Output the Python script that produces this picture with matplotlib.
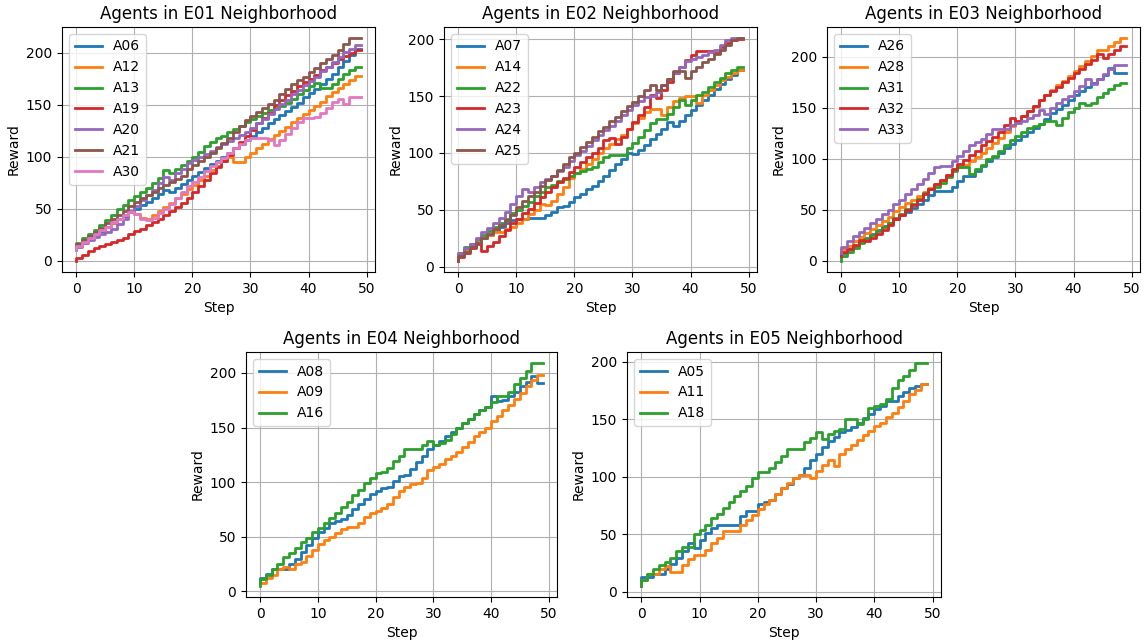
import matplotlib
matplotlib.use("Agg")
import matplotlib.pyplot as plt

# reward per step (steps 0..49)
steps = list(range(50))

e01_agents = ["A06", "A12", "A13", "A19", "A20", "A21", "A30"]
e01_rewards = [
  [10, 14, 18, 22, 26, 29, 33, 36, 40, 43, 47, 50, 54, 57, 60, 64, 68, 66, 70, 74, 78, 82, 85, 89, 93,
   96, 100, 104, 108, 112, 116, 120, 124, 128, 132, 136, 140, 144, 148, 152, 157, 161, 165, 170, 175, 180, 186, 192, 198, 204],
  [10, 14, 18, 22, 26, 30, 33, 36, 40, 44, 47, 45, 41, 40, 44, 48, 52, 56, 60, 64, 69, 73, 78, 82, 87,
   91, 96, 100, 95, 95, 100, 104, 108, 112, 117, 121, 125, 129, 133, 137, 141, 145, 149, 153, 158, 162, 166, 170, 174, 178],
  [12, 17, 22, 26, 30, 34, 39, 44, 50, 54, 58, 62, 66, 70, 75, 80, 87, 84, 88, 92, 96, 100, 105, 110, 114,
   118, 120, 124, 127, 130, 133, 136, 139, 142, 145, 147, 149, 152, 156, 160, 164, 168, 171, 166, 166, 170, 175, 180, 183, 186],
  [0, 3, 6, 9, 12, 14, 16, 18, 20, 22, 26, 29, 31, 34, 37, 40, 44, 48, 52, 56, 60, 66, 72, 78, 84,
   90, 96, 102, 108, 114, 120, 126, 132, 137, 142, 150, 155, 159, 163, 168, 172, 175, 179, 183, 186, 190, 194, 197, 200, 203],
  [10, 13, 17, 20, 23, 26, 28, 31, 35, 40, 48, 53, 58, 63, 68, 75, 81, 78, 84, 88, 94, 97, 100, 103, 106,
   109, 112, 115, 118, 121, 124, 128, 132, 136, 141, 146, 151, 155, 160, 164, 169, 173, 177, 182, 186, 191, 196, 201, 204, 207],
  [12, 16, 20, 24, 28, 32, 36, 40, 44, 48, 53, 57, 60, 63, 66, 70, 73, 76, 79, 82, 88, 92, 96, 100, 104,
   108, 113, 118, 124, 130, 135, 139, 143, 147, 151, 155, 160, 165, 170, 174, 177, 181, 185, 190, 194, 198, 203, 208, 214, 214],
  [10, 14, 18, 22, 26, 30, 33, 37, 40, 44, 47, 45, 40, 39, 41, 46, 50, 55, 60, 66, 72, 76, 81, 86, 91,
   95, 99, 104, 108, 112, 116, 118, 118, 118, 116, 111, 116, 122, 128, 133, 137, 137, 138, 142, 147, 153, 156, 151, 157, 157],
]

e02_agents = ["A07", "A14", "A22", "A23", "A24", "A25"]
e02_rewards = [
  [5, 10, 15, 18, 22, 25, 28, 31, 35, 38, 41, 42, 42, 43, 43, 43, 45, 48, 52, 53, 57, 61, 64, 68, 71,
   75, 80, 85, 90, 95, 100, 99, 103, 107, 112, 117, 121, 127, 124, 128, 133, 138, 142, 147, 151, 156, 161, 165, 169, 173],
  [5, 10, 14, 18, 22, 25, 28, 30, 30, 33, 35, 38, 42, 46, 50, 55, 54, 58, 64, 70, 78, 82, 86, 90, 95,
   100, 104, 108, 112, 116, 121, 126, 131, 136, 139, 139, 133, 140, 146, 148, 150, 150, 144, 151, 155, 160, 164, 167, 170, 173],
  [8, 12, 17, 20, 24, 28, 31, 35, 38, 42, 47, 50, 53, 57, 62, 66, 70, 72, 75, 77, 80, 82, 84, 86, 88,
   92, 96, 98, 98, 98, 104, 109, 114, 120, 126, 130, 130, 134, 140, 147, 142, 147, 151, 154, 158, 162, 166, 170, 173, 176],
  [5, 8, 12, 16, 20, 14, 18, 22, 27, 32, 38, 42, 47, 51, 56, 61, 66, 70, 74, 78, 83, 88, 92, 96, 100,
   104, 111, 113, 108, 114, 121, 127, 133, 140, 151, 148, 155, 162, 170, 176, 182, 186, 190, 190, 190, 188, 193, 197, 199, 200],
  [8, 12, 16, 20, 25, 30, 34, 38, 43, 48, 55, 62, 68, 66, 70, 74, 77, 80, 84, 88, 93, 98, 102, 106, 111,
   116, 120, 124, 128, 133, 138, 142, 146, 149, 150, 154, 160, 165, 170, 176, 181, 183, 184, 186, 189, 191, 195, 199, 201, 201],
  [5, 9, 13, 17, 21, 25, 29, 33, 37, 41, 45, 52, 58, 62, 66, 71, 76, 80, 85, 90, 96, 100, 105, 110, 114,
   119, 123, 128, 132, 137, 141, 145, 150, 155, 160, 155, 160, 165, 172, 172, 166, 172, 176, 180, 183, 187, 191, 195, 199, 201],
]

e03_agents = ["A26", "A28", "A31", "A32", "A33"]
e03_rewards = [
  [5, 8, 12, 15, 18, 22, 26, 30, 34, 37, 41, 45, 48, 52, 56, 60, 64, 68, 68, 68, 72, 78, 83, 83, 88,
   93, 98, 102, 106, 110, 114, 118, 122, 126, 130, 134, 139, 145, 149, 153, 157, 162, 166, 170, 174, 178, 182, 189, 184, 184],
  [8, 12, 15, 19, 23, 27, 31, 35, 39, 43, 49, 53, 57, 60, 63, 67, 71, 75, 79, 84, 90, 92, 94, 98, 102,
   106, 110, 115, 120, 126, 132, 137, 142, 147, 152, 157, 162, 167, 172, 176, 181, 186, 191, 196, 201, 206, 206, 210, 214, 218],
  [0, 5, 9, 13, 17, 21, 25, 29, 33, 37, 42, 46, 51, 56, 61, 66, 70, 72, 76, 82, 88, 92, 92, 85, 90,
   94, 100, 103, 108, 113, 118, 122, 126, 130, 132, 134, 137, 137, 133, 140, 146, 150, 155, 153, 155, 160, 164, 168, 172, 174],
  [5, 9, 12, 16, 20, 19, 22, 26, 30, 35, 41, 45, 50, 55, 60, 65, 70, 75, 79, 84, 90, 95, 99, 104, 108,
   113, 117, 121, 126, 133, 140, 137, 142, 147, 152, 157, 162, 166, 170, 175, 179, 184, 188, 193, 197, 202, 199, 202, 206, 210],
  [8, 14, 19, 24, 28, 32, 37, 41, 46, 50, 56, 60, 65, 70, 75, 80, 86, 92, 93, 93, 98, 103, 108, 113, 116,
   119, 124, 129, 129, 129, 133, 135, 137, 140, 143, 148, 144, 150, 155, 158, 161, 166, 171, 178, 173, 178, 183, 188, 192, 192],
]

e04_agents = ["A08", "A09", "A16"]
e04_rewards = [
  [8, 12, 16, 20, 20, 20, 25, 30, 36, 42, 49, 54, 58, 63, 64, 66, 70, 75, 80, 85, 89, 92, 95, 96, 101,
   106, 107, 112, 118, 124, 130, 134, 138, 142, 146, 150, 154, 158, 162, 166, 169, 179, 174, 175, 179, 183, 188, 192, 197, 191],
  [8, 8, 12, 15, 20, 22, 20, 25, 27, 32, 38, 43, 47, 50, 53, 57, 59, 59, 63, 68, 72, 74, 76, 80, 86,
   92, 96, 98, 99, 104, 111, 114, 117, 121, 124, 128, 132, 137, 142, 146, 150, 156, 161, 166, 171, 176, 182, 188, 194, 198],
  [5, 11, 15, 20, 25, 31, 35, 40, 45, 49, 54, 58, 63, 67, 72, 77, 82, 88, 93, 99, 104, 108, 109, 113, 119,
   124, 130, 130, 130, 134, 138, 134, 136, 139, 144, 150, 154, 158, 162, 166, 169, 173, 179, 179, 183, 190, 195, 202, 209, 209],
]

e05_agents = ["A05", "A11", "A18"]
e05_rewards = [
  [5, 13, 13, 15, 15, 20, 24, 29, 35, 42, 38, 45, 51, 55, 58, 58, 58, 58, 66, 70, 70, 76, 78, 80, 85,
   90, 94, 99, 102, 108, 115, 120, 126, 131, 135, 139, 141, 143, 147, 151, 155, 159, 162, 166, 166, 170, 174, 177, 179, 181],
  [5, 10, 15, 15, 20, 22, 17, 17, 23, 28, 32, 32, 36, 42, 47, 53, 53, 53, 58, 62, 67, 72, 76, 80, 85,
   90, 95, 99, 102, 102, 99, 105, 110, 115, 109, 120, 124, 128, 132, 136, 140, 144, 147, 152, 156, 161, 166, 172, 176, 181],
  [5, 10, 15, 20, 23, 26, 29, 35, 39, 39, 50, 54, 58, 64, 68, 73, 78, 83, 88, 92, 99, 104, 104, 108, 113,
   118, 124, 124, 124, 130, 134, 139, 133, 137, 140, 142, 150, 150, 146, 150, 160, 162, 163, 168, 177, 184, 188, 193, 199, 199],
]

neighborhoods = ["E01", "E02", "E03", "E04", "E05"]
all_agents = [e01_agents, e02_agents, e03_agents, e04_agents, e05_agents]
all_rewards = [e01_rewards, e02_rewards, e03_rewards, e04_rewards, e05_rewards]

# axes boxes in pixels (left, top, width, height) on a 1148x643 canvas
W, H = 1148, 643
boxes = [
  (62, 27, 313, 245),
  (444, 27, 313, 245),
  (827, 27, 313, 245),
  (246, 352, 311, 245),
  (627, 352, 314, 245),
]

fig = plt.figure(figsize=(W / 100, H / 100), dpi=100)

for name, agents, rewards, (left, top, w, h) in zip(neighborhoods, all_agents, all_rewards, boxes):
  ax = fig.add_axes([left / W, 1 - (top + h) / H, w / W, h / H])
  for agent, vals in zip(agents, rewards):
    ax.step(steps, vals, label=agent, linewidth=2)
  ax.set_title(f"Agents in {name} Neighborhood", fontsize=12)
  ax.set_xlabel("Step")
  ax.set_ylabel("Reward")
  ax.grid(True)
  ax.legend(loc="upper left")

fig.savefig("out.png", dpi=100)
